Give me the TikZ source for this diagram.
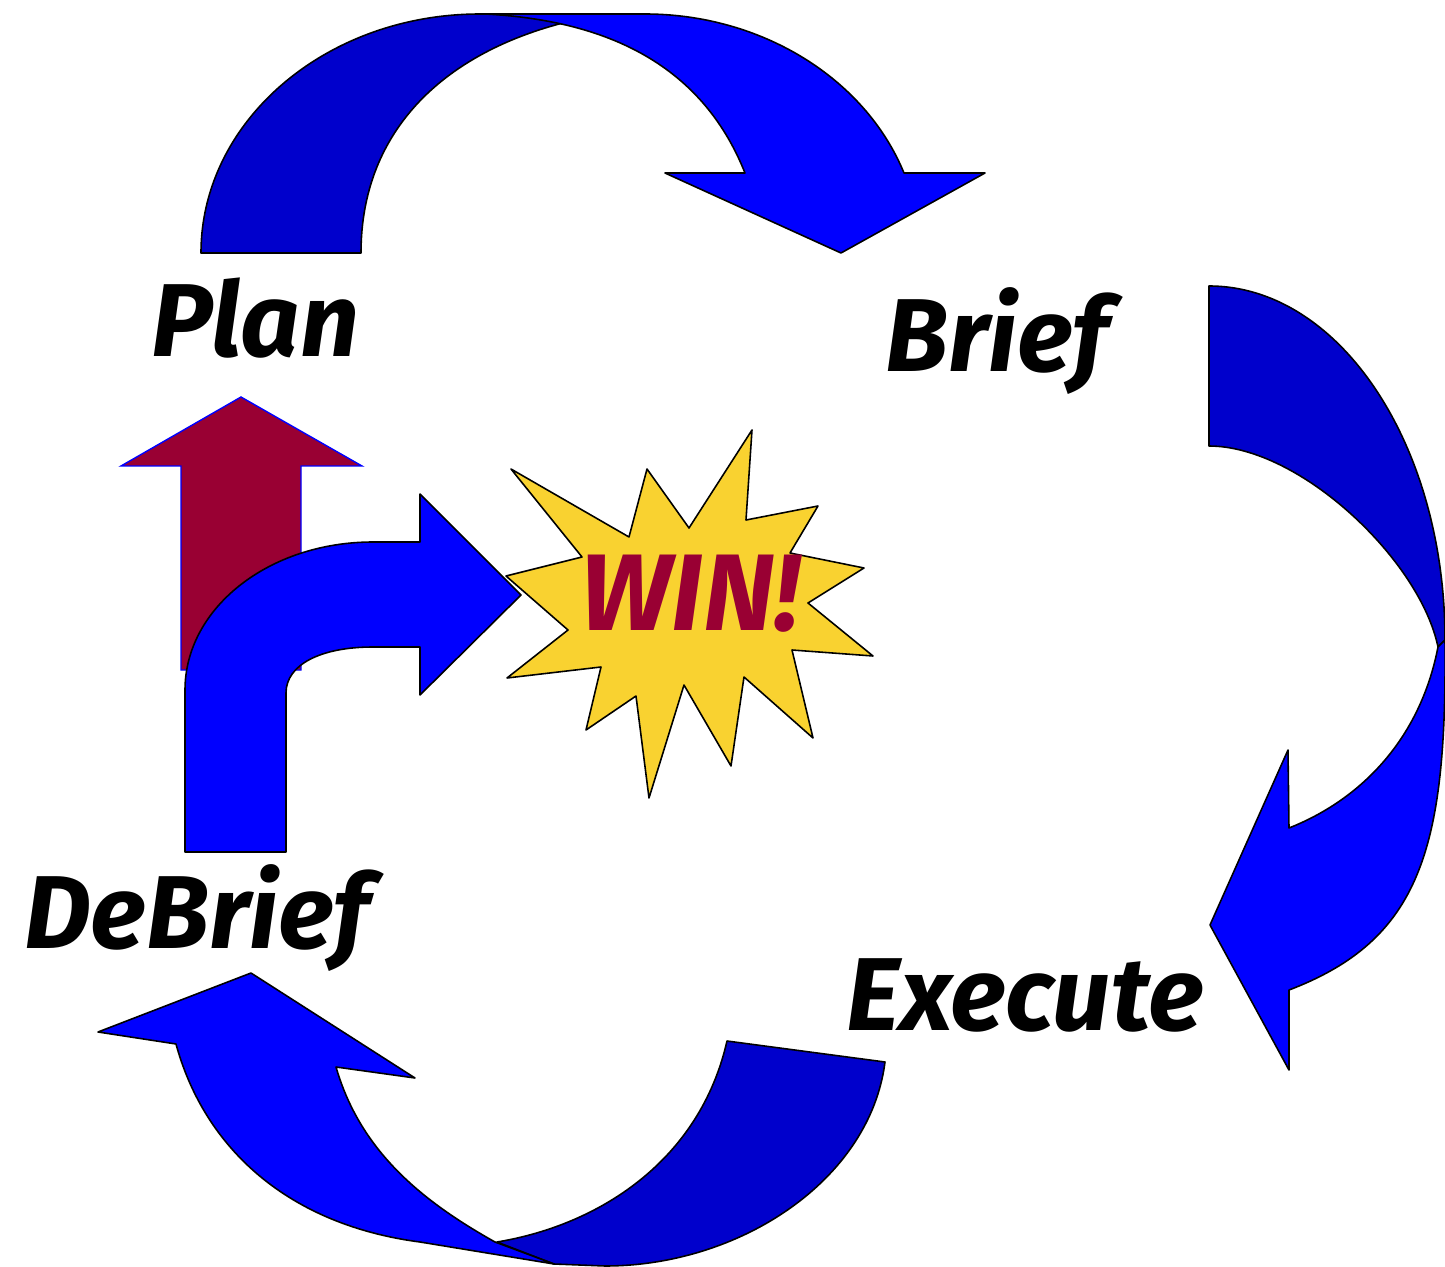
\documentclass[tikz,border=0pt]{standalone}
\usepackage{fontspec}
\setmainfont{Fira Sans}
\definecolor{darkband}{HTML}{0000CC}
\definecolor{brightband}{HTML}{0000FF}
\definecolor{winred}{HTML}{990033}
\definecolor{burst}{HTML}{F9D230}
\begin{document}
\begin{tikzpicture}[x=0.02cm,y=-0.02cm,
  outl/.style={draw=black, line width=0.9pt, line join=round},
  dark/.style={outl, fill=darkband},
  bright/.style={outl, fill=brightband},
  uparrow/.style={draw=brightband, line width=0.8pt, fill=winred},
  boom/.style={outl, fill=burst},
  lbl/.style={anchor=base, font=\fontsize{59}{60}\selectfont\bfseries\itshape},
  wintxt/.style={anchor=base, text=winred, font=\fontsize{62}{64}\selectfont\bfseries\itshape}]
\useasboundingbox (0,0) rectangle (1445,1267);

% top arrow: Plan -> Brief
\path[dark] (201,253) .. controls (201,121) and (326,14) .. (480,14) -- (580,14) -- (575,20)
  .. controls (445,50) and (361,130) .. (361,253) -- cycle;
\path[bright] (485,14) -- (645,14) .. controls (761,14) and (865,78) .. (904,173)
  -- (985,173) -- (841,253) -- (665,173) -- (745,173)
  .. controls (700,60) and (600,20) .. (485,14) -- cycle;

% right arrow: Brief -> Execute
\path[dark] (1209,286) .. controls (1339,286) and (1445,444) .. (1445,640) -- (1438,647)
  .. controls (1420,560) and (1300,446) .. (1209,446) -- cycle;
\path[bright] (1445,640) .. controls (1447,850) and (1420,940) .. (1289,990)
  -- (1289,1070) -- (1210,925) -- (1288,750) -- (1289,828)
  .. controls (1360,800) and (1420,740) .. (1438,647) -- cycle;

% bottom arrow: Execute -> DeBrief
\path[dark] (727,1041) -- (885,1062) .. controls (870,1180) and (740,1266) .. (605,1266)
  -- (554,1264) -- (497,1242) .. controls (600,1225) and (700,1160) .. (727,1041) -- cycle;
\path[bright] (554,1264) -- (420,1242) .. controls (290,1225) and (205,1150) .. (176,1044)
  -- (98,1032) -- (251,973) -- (415,1078) -- (336,1067)
  .. controls (360,1150) and (420,1200) .. (495,1242) -- cycle;

% maroon up arrow
\path[uparrow] (241,397) -- (362,466) -- (301,466) -- (301,670) -- (181,670) -- (181,466) -- (121,466) -- cycle;

% bent arrow DeBrief -> WIN
\path[bright] (185,852) -- (185,690) .. controls (185,608) and (269,542) .. (373,542)
  -- (420,542) -- (420,494) -- (521,595) -- (420,695) -- (420,647) -- (373,647)
  .. controls (320,647) and (286,665) .. (286,693) -- (286,852) -- cycle;

% explosion
\path[boom] (511,469) -- (629,537) -- (647,469) -- (689,528) -- (752,430) -- (746,520)
  -- (818,506) -- (790,553) -- (864,568) -- (808,603) -- (873,656) -- (792,650)
  -- (813,738) -- (744,677) -- (731,766) -- (684,685) -- (649,798) -- (636,696)
  -- (586,730) -- (601,667) -- (507,678) -- (568,630) -- (506,576) -- (582,557) -- cycle;

\node[wintxt] (win) at (690,630) {WIN!};
\node[lbl] (plan) at (255,357) {Plan};
\node[lbl] (brief) at (997,372) {Brief};
\node[lbl] (debrief) at (197,948) {DeBrief};
\node[lbl] (execute) at (1025,1030) {Execute};
\end{tikzpicture}
\end{document}
